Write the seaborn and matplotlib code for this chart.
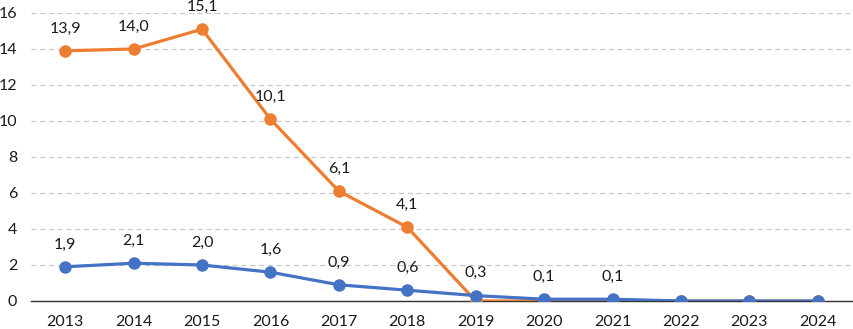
import numpy as np
import pandas as pd
import seaborn as sns
import matplotlib
import matplotlib.pyplot as plt
from matplotlib.ticker import FixedLocator

matplotlib.use('Agg')

years = ['2013', '2014', '2015', '2016', '2017', '2018',
         '2019', '2020', '2021', '2022', '2023', '2024']
orange_vals = [13.9, 14.0, 15.1, 10.1, 6.1, 4.1, 0.0, 0.0, 0.0, 0.0, 0.0, 0.0]
blue_vals = [1.9, 2.1, 2.0, 1.6, 0.9, 0.6, 0.3, 0.1, 0.1, 0.0, 0.0, 0.0]
orange_labels = ['13,9', '14,0', '15,1', '10,1', '6,1', '4,1', '', '', '', '', '', '']
blue_labels = ['1,9', '2,1', '2,0', '1,6', '0,9', '0,6', '0,3', '0,1', '0,1', '', '', '']
y_ticks = [0, 2, 4, 6, 8, 10, 12, 14, 16]

sns.set_theme(style="white")
plt.rcParams['font.family'] = ['Lato', 'DejaVu Sans']

orange = '#ED7D31'
blue = '#4472C4'
txt = '#1a1a1a'

df = pd.DataFrame({'pos': np.arange(len(years)),
                   'orange': orange_vals,
                   'blue': blue_vals})

fig = plt.figure(figsize=(8.54, 3.29), dpi=100)
ax = fig.add_axes([31/854, 1 - 301/329, 821/854, (301 - 13)/329])

sns.lineplot(data=df, x='pos', y='orange', ax=ax, color=orange, lw=2.3,
             marker='o', markersize=9, markeredgewidth=0, zorder=3)
sns.lineplot(data=df, x='pos', y='blue', ax=ax, color=blue, lw=2.3,
             marker='o', markersize=9, markeredgewidth=0, zorder=4)

for i in range(len(years)):
    if orange_labels[i]:
        ax.annotate(orange_labels[i], (i, orange_vals[i]), xytext=(0, 11),
                    textcoords='offset points', ha='center', va='bottom',
                    fontsize=11.5, color=txt, annotation_clip=False)
    if blue_labels[i]:
        ax.annotate(blue_labels[i], (i, blue_vals[i]), xytext=(0, 11),
                    textcoords='offset points', ha='center', va='bottom',
                    fontsize=11.5, color=txt, annotation_clip=False)

ax.set_xlim(-0.5, len(years) - 0.5)
ax.set_ylim(0, 16)
ax.set_yticks(y_ticks)
ax.set_yticklabels([str(t) for t in y_ticks], fontsize=11.5, color=txt)
ax.yaxis.grid(True, color='#c8c8c8', linestyle=(0, (4, 3)), lw=0.9)
ax.set_axisbelow(True)

ax.set_xticks(np.arange(len(years)))
ax.set_xticklabels(years, fontsize=11.5, color=txt)
ax.xaxis.set_minor_locator(FixedLocator(np.arange(len(years) + 1) - 0.5))
ax.tick_params(axis='x', which='major', length=0, pad=10)
ax.tick_params(axis='x', which='minor', length=5, width=0.9, color='#333333',
               direction='out')
ax.tick_params(axis='y', length=0, pad=10)

ax.set_xlabel('')
ax.set_ylabel('')
for side in ['top', 'right', 'left']:
    ax.spines[side].set_visible(False)
ax.spines['bottom'].set_color('#333333')
ax.spines['bottom'].set_linewidth(1.0)

fig.savefig('out.png', dpi=100)
